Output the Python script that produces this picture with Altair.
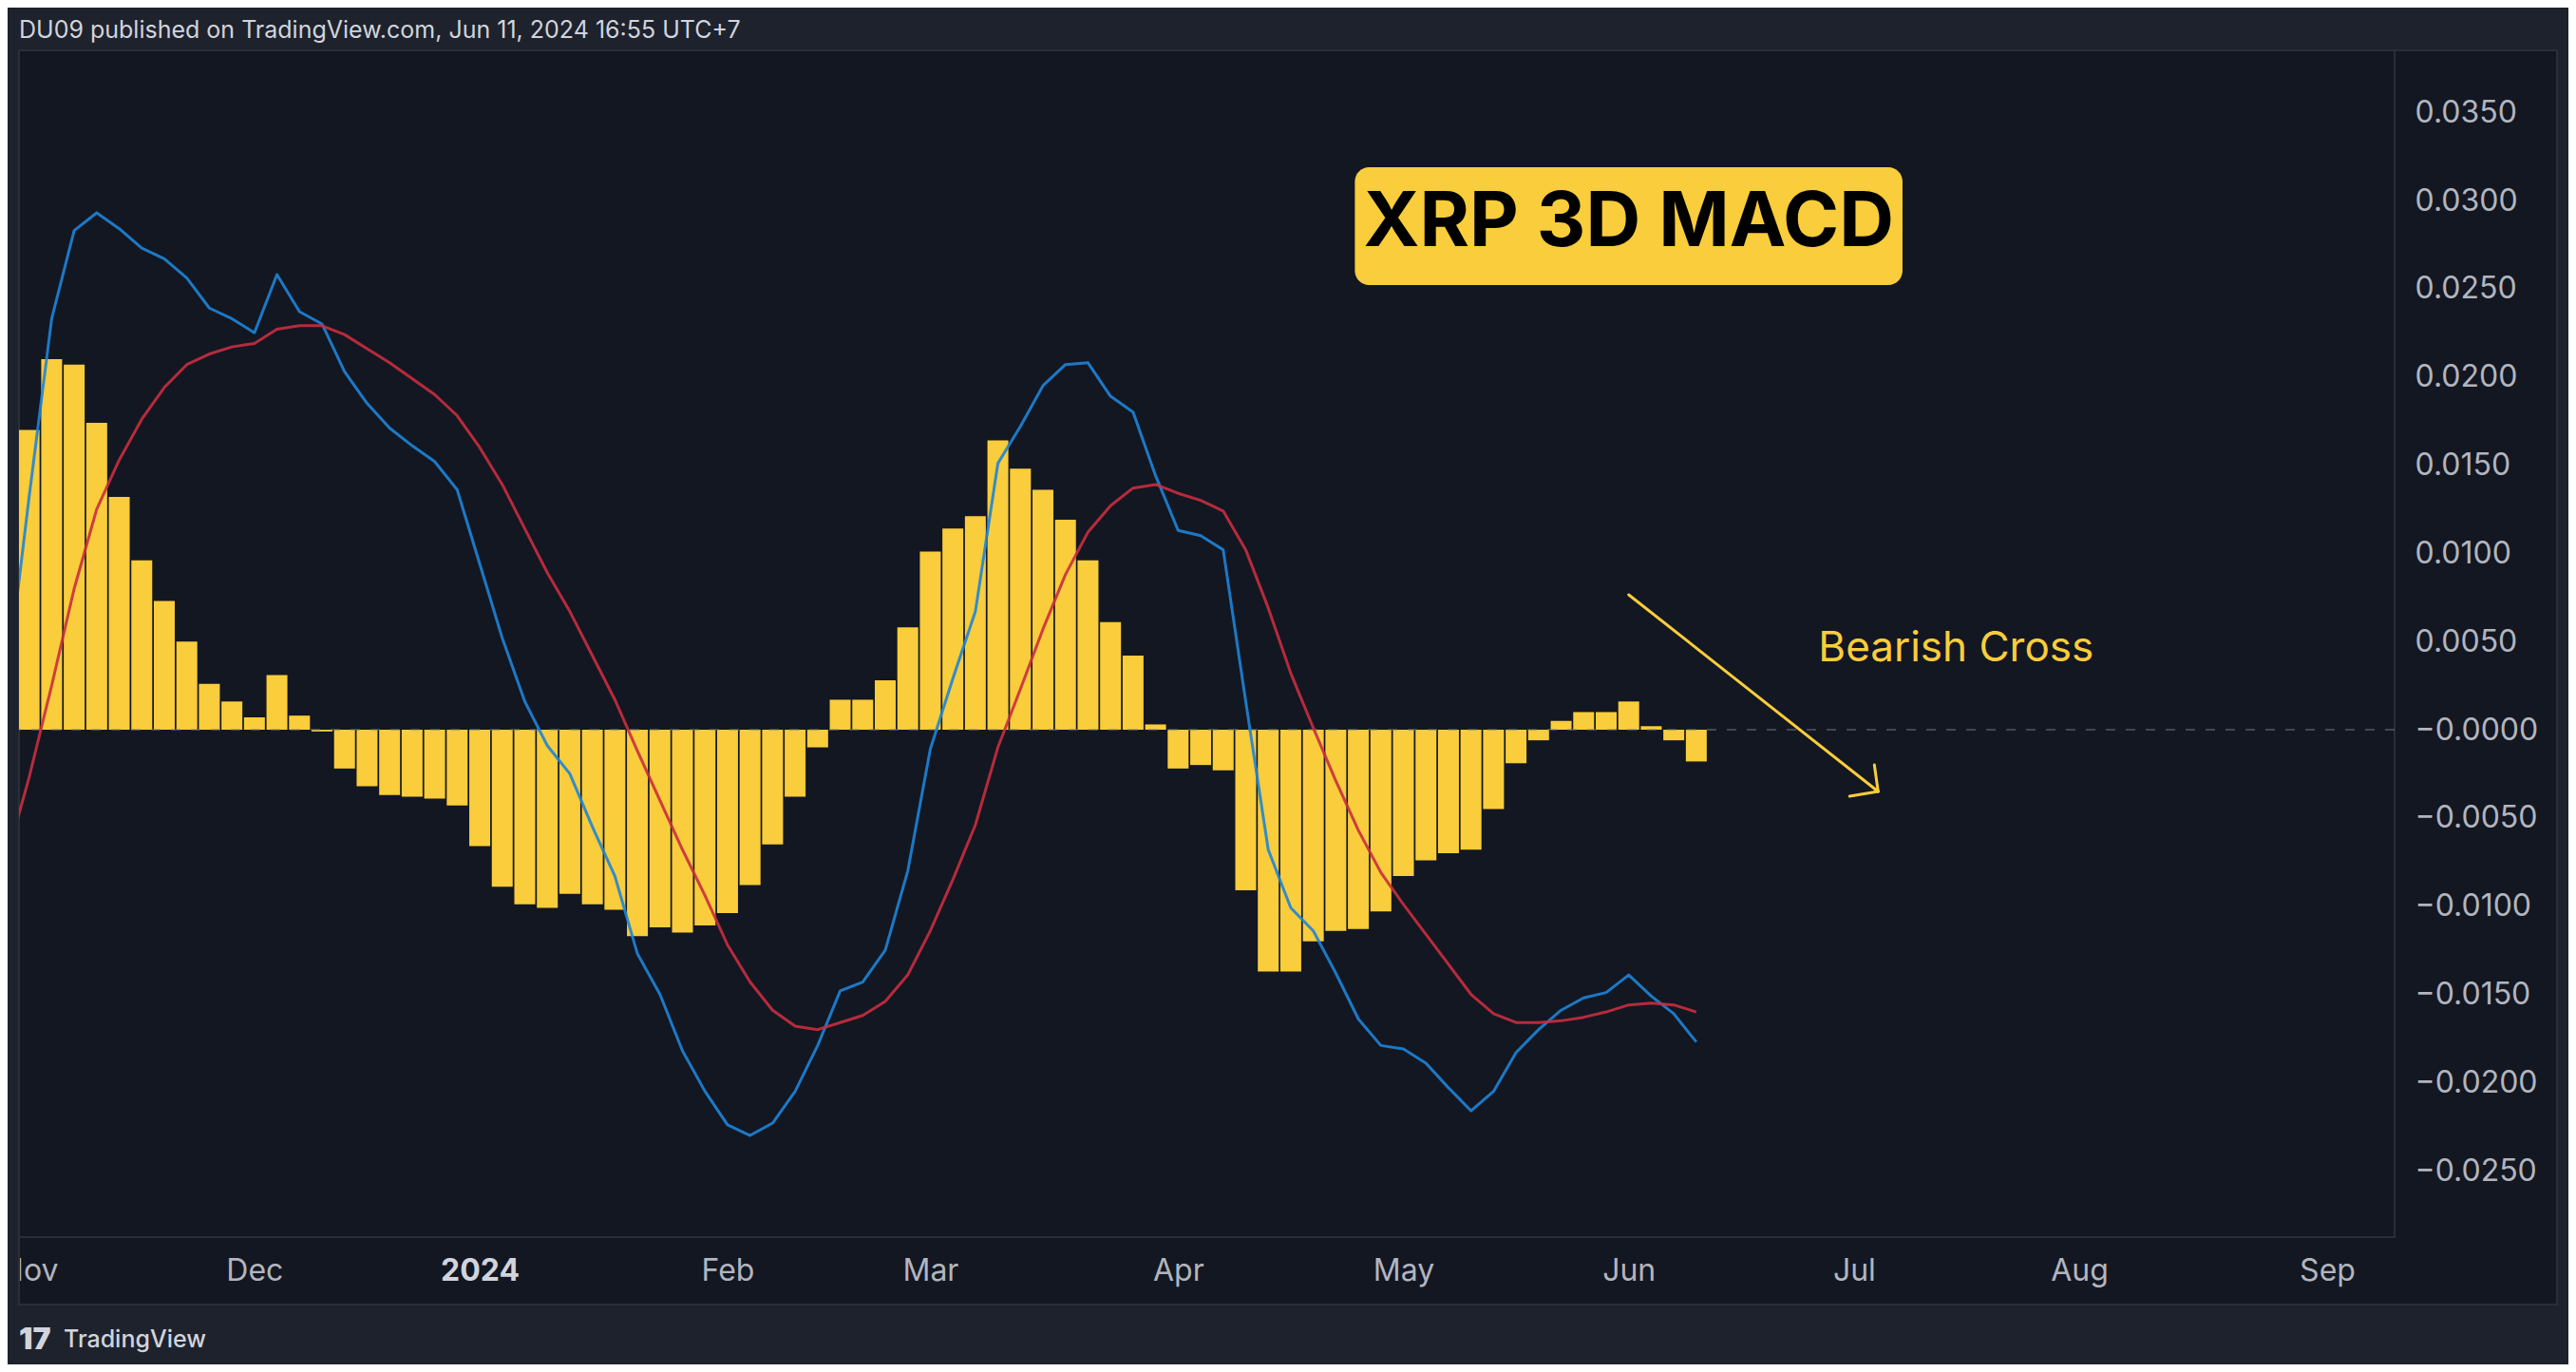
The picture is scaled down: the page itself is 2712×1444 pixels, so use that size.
import pandas as pd
import altair as alt

# 3D bars, one every 3 days; the first one (2023-10-30) is just left of the pane
dates = pd.date_range("2023-10-30", periods=76, freq="3D").strftime("%Y-%m-%d").tolist()

# MACD line (blue), one value per bar
macd = [
    0.0026, 0.0132, 0.0233, 0.0283, 0.0293, 0.0284, 0.0273, 0.0267, 0.0256, 0.0239,
    0.0233, 0.0225, 0.0258, 0.0237, 0.0230, 0.0203, 0.0185, 0.0171, 0.0161, 0.0152,
    0.0136, 0.0094, 0.0052, 0.0016, -0.0009, -0.0025, -0.0055, -0.0083, -0.0127, -0.0150,
    -0.0182, -0.0205, -0.0224, -0.0230, -0.0223, -0.0205, -0.0179, -0.0148, -0.0143, -0.0125,
    -0.0080, -0.0011, 0.0029, 0.0067, 0.0151, 0.0172, 0.0195, 0.0207, 0.0208, 0.0189,
    0.0180, 0.0144, 0.0113, 0.0110, 0.0102, 0.0016, -0.0068, -0.0101, -0.0114, -0.0138,
    -0.0164, -0.0179, -0.0181, -0.0189, -0.0203, -0.0216, -0.0205, -0.0183, -0.0170, -0.0159,
    -0.0152, -0.0149, -0.0139, -0.0151, -0.0161, -0.0177,
]

# signal line (red)
signal = [
    -0.0073, -0.0027, 0.0025, 0.0080, 0.0125, 0.0153, 0.0176, 0.0194, 0.0207, 0.0213,
    0.0217, 0.0219, 0.0227, 0.0229, 0.0229, 0.0224, 0.0216, 0.0208, 0.0199, 0.0190,
    0.0178, 0.0160, 0.0139, 0.0114, 0.0089, 0.0067, 0.0042, 0.0017, -0.0012, -0.0040,
    -0.0068, -0.0094, -0.0122, -0.0143, -0.0159, -0.0168, -0.0170, -0.0166, -0.0162, -0.0154,
    -0.0139, -0.0114, -0.0085, -0.0054, -0.0010, 0.0023, 0.0057, 0.0088, 0.0112, 0.0127,
    0.0137, 0.0139, 0.0134, 0.0130, 0.0124, 0.0102, 0.0069, 0.0032, 0.0001, -0.0029,
    -0.0057, -0.0081, -0.0099, -0.0116, -0.0133, -0.0150, -0.0161, -0.0166, -0.0166, -0.0165,
    -0.0163, -0.0160, -0.0156, -0.0155, -0.0156, -0.0160,
]

# histogram, from the 2023-11-02 bar on
hist = [
    0.0170, 0.0210, 0.0207, 0.0174, 0.0132, 0.0096, 0.0073, 0.0050, 0.0026, 0.0016,
    0.0007, 0.0031, 0.0008, -0.0001, -0.0022, -0.0032, -0.0037, -0.0038, -0.0039, -0.0043,
    -0.0066, -0.0089, -0.0099, -0.0101, -0.0093, -0.0099, -0.0102, -0.0117, -0.0112, -0.0115,
    -0.0111, -0.0104, -0.0088, -0.0065, -0.0038, -0.0010, 0.0017, 0.0017, 0.0028, 0.0058,
    0.0101, 0.0114, 0.0121, 0.0164, 0.0148, 0.0136, 0.0119, 0.0096, 0.0061, 0.0042,
    0.0003, -0.0022, -0.0020, -0.0023, -0.0091, -0.0137, -0.0137, -0.0120, -0.0114, -0.0113,
    -0.0103, -0.0083, -0.0074, -0.0070, -0.0068, -0.0045, -0.0019, -0.0006, 0.0005, 0.0010,
    0.0010, 0.0016, 0.0002, -0.0006, -0.0018,
]

# TradingView labels a month at its first bar
month_ticks = ["2023-11-02", "2023-12-02", "2024-01-01", "2024-02-03", "2024-03-01", "2024-04-03",
               "2024-05-03", "2024-06-02", "2024-07-02", "2024-08-01", "2024-09-03"]
y_ticks = [-0.025, -0.02, -0.015, -0.01, -0.005, 0.0, 0.005, 0.01, 0.015, 0.02, 0.025, 0.03, 0.035]

# annotations (in chart coordinates)
title_box = {"date": ["2024-04-26T12:45"], "date2": ["2024-07-08T11:00"],
             "value": [0.03189], "value2": [0.02521]}
title_pos = {"date": ["2024-06-02"], "value": [0.0287], "label": ["XRP 3D MACD"]}
note_pos = {"date": ["2024-06-27T06:00"], "value": [0.0039], "label": ["Bearish Cross"]}
arrow = {
    "date": ["2024-06-02", "2024-07-05T05:00", "2024-07-05T05:00"],
    "value": [0.00765, -0.0035, -0.0035],
    "date2": ["2024-07-05T05:00", "2024-07-04T17:00", "2024-07-01T10:00"],
    "value2": [-0.0035, -0.00199, -0.00377],
}

PANE = "#131722"
OUTER = "#1e222d"
BORDER = "#2a2e39"
LABEL = "#b2b5be"
YELLOW = "#f9cd3b"
BLUE = "#1e84d8"
RED = "#c92e3f"
FONT = "Inter"

W, H = 2501, 1249

def ms(s):
    return int(pd.Timestamp(s).value // 10**6)

px_per_day = 7.938
x_start = pd.Timestamp("2023-11-02") - pd.Timedelta(days=0.718)
x_end = x_start + pd.Timedelta(days=W / px_per_day)

x_scale = alt.Scale(type="utc", domain=[ms(x_start), ms(x_end)])
y_scale = alt.Scale(domain=[-0.02876, 0.03851], nice=False, zero=False)

x_axis = alt.Axis(
    values=[ms(d) for d in month_ticks],
    labelExpr="utcFormat(datum.value, '%m') == '01' ? utcFormat(datum.value, '%Y') : utcFormat(datum.value, '%b')",
    labelFontWeight={"expr": "utcFormat(datum.value, '%m') == '01' ? 'bold' : 'normal'"},
    labelColor={"expr": "utcFormat(datum.value, '%m') == '01' ? '#d1d4dc' : '" + LABEL + "'"},
    title=None, grid=False, domain=False, ticks=False, tickSize=0,
    labelPadding=35, labelBaseline="middle", labelFlush=10,
    labelFont=FONT, labelFontSize=32, labelOverlap=False,
)
y_axis = alt.Axis(
    values=y_ticks, orient="right",
    labelExpr="datum.value == 0 ? '\u22120.0000' : format(datum.value, '.4f')",
    title=None, grid=False, domain=False, ticks=False, tickSize=0,
    labelPadding=21, labelAlign="left", labelBaseline="middle",
    labelFont=FONT, labelFontSize=32, labelColor=LABEL, labelOverlap=False,
)

X = alt.X("date:T", scale=x_scale, axis=x_axis)
Y = alt.Y("value:Q", scale=y_scale, axis=y_axis)

one = pd.DataFrame({"k": [0]})


def panel(x0, x1, y0, y1, **kw):
    return alt.Chart(one).mark_rect(**kw).encode(
        x=alt.value(x0), x2=alt.value(x1), y=alt.value(y0), y2=alt.value(y1)
    )


# frame round the pane (outer page colour) and the pane outline
frame = [
    panel(-12, W + 183, -45, 0, color=OUTER),
    panel(-12, 0, -45, H + 134, color=OUTER),
    panel(2672, W + 183, -45, H + 134, color=OUTER),
    panel(-12, W + 183, 1320, H + 134, color=OUTER),
    panel(0, 2672, 0, 1320, fill=None, stroke=BORDER, strokeWidth=2),
]

hist_df = pd.DataFrame({"date": dates[1:], "value": hist})
bars = alt.Chart(hist_df).mark_bar(size=22, color=YELLOW, clip=True).encode(x=X, y=Y)

zero = alt.Chart(pd.DataFrame({"value": [0.0]})).mark_rule(
    color="#787b86", strokeWidth=1.5, strokeDash=[10, 11], opacity=0.65
).encode(y=Y)

macd_line = alt.Chart(pd.DataFrame({"date": dates, "value": macd})).mark_line(
    color=BLUE, strokeWidth=3, clip=True, opacity=0.9, strokeJoin="round"
).encode(x=X, y=Y)
signal_line = alt.Chart(pd.DataFrame({"date": dates, "value": signal})).mark_line(
    color=RED, strokeWidth=3, clip=True, opacity=0.9, strokeJoin="round"
).encode(x=X, y=Y)

box = alt.Chart(pd.DataFrame(title_box)).mark_rect(color=YELLOW, cornerRadius=15).encode(
    x=X, x2="date2:T", y=Y, y2="value2:Q"
)
title = alt.Chart(pd.DataFrame(title_pos)).mark_text(
    font=FONT, fontSize=80, fontWeight="bold", color="#000000", align="center", baseline="middle"
).encode(x=X, y=Y, text="label:N")

note = alt.Chart(pd.DataFrame(note_pos)).mark_text(
    font=FONT, fontSize=44, color=YELLOW, align="left", baseline="alphabetic"
).encode(x=X, y=Y, text="label:N")

arrow_lines = alt.Chart(pd.DataFrame(arrow)).mark_rule(
    color=YELLOW, strokeWidth=3, strokeCap="round"
).encode(x=X, x2="date2:T", y=Y, y2="value2:Q")

header = alt.Chart(one).mark_text(
    text="DU09 published on TradingView.com, Jun 11, 2024 16:55 UTC+7",
    font=FONT, fontSize=25, color="#d1d4dc", align="left", baseline="middle"
).encode(x=alt.value(0), y=alt.value(-21))

logo = alt.Chart(one).mark_text(
    text="17", font=FONT, fontSize=32, fontWeight=900, color="#d1d4dc", align="left", baseline="middle"
).encode(x=alt.value(0), y=alt.value(1357))
footer = alt.Chart(one).mark_text(
    text="TradingView", font=FONT, fontSize=25, fontWeight=500, color="#d1d4dc",
    align="left", baseline="middle"
).encode(x=alt.value(47), y=alt.value(1357))

chart = alt.layer(
    *frame, bars, zero, macd_line, signal_line, box, title, note, arrow_lines,
    header, logo, footer
).properties(
    width=W, height=H,
    autosize=alt.AutoSizeParams(type="none"),
    padding={"left": 12, "top": 45, "right": 183, "bottom": 134},
    background=PANE,
).configure_view(
    stroke=BORDER, strokeWidth=2
)

chart.save("out.html", embed_options={"renderer": "svg", "actions": False})
